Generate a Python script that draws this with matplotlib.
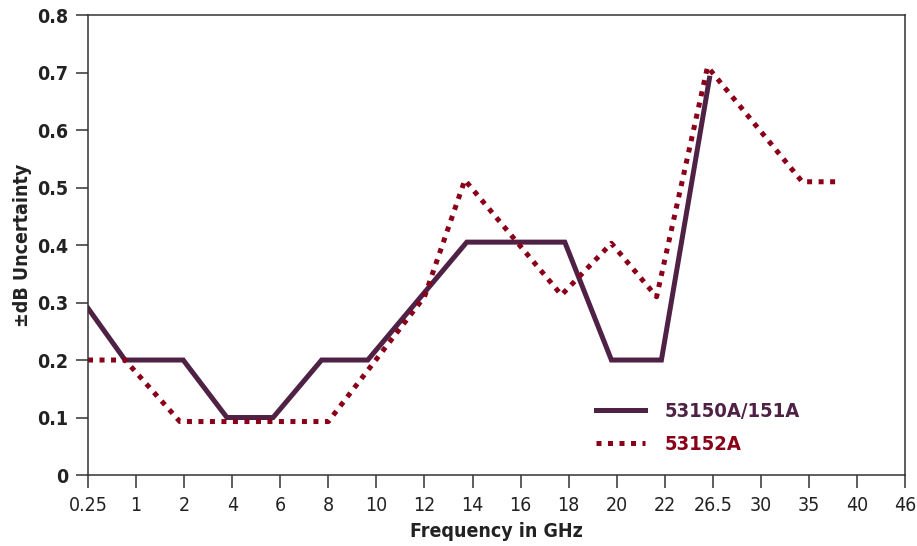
import matplotlib
matplotlib.use("Agg")
import matplotlib.pyplot as plt

# categorical frequency ticks (equally spaced)
freq_labels = ["0.25", "1", "2", "4", "6", "8", "10", "12", "14", "16",
               "18", "20", "22", "26.5", "30", "35", "40", "46"]

# series positions are in tick-index units
solid_x = [0, 0.77, 1.98, 2.89, 3.85, 4.86, 5.82, 7.88, 9.92, 10.89, 11.93, 12.93]
solid_y = [0.29, 0.2, 0.2, 0.1, 0.1, 0.2, 0.2, 0.405, 0.405, 0.2, 0.2, 0.69]

dotted_x = [0, 0.77, 1.91, 5.0, 7.0, 7.84, 9.85, 10.89, 11.83, 12.89, 14.86, 15.68]
dotted_y = [0.2, 0.2, 0.093, 0.093, 0.31, 0.513, 0.313, 0.403, 0.31, 0.71, 0.51, 0.51]

y_ticks = [0, 0.1, 0.2, 0.3, 0.4, 0.5, 0.6, 0.7, 0.8]

SOLID_COLOR = "#4e2145"
DOTTED_COLOR = "#8a0018"
SPINE_COLOR = "#333333"

plt.rcParams["font.family"] = ["DejaVu Sans"]
plt.rcParams["font.stretch"] = "condensed"

fig = plt.figure(figsize=(9.17, 5.46), dpi=100)
ax = fig.add_axes([0.096, 0.130, 0.891, 0.8425])

ax.plot(solid_x, solid_y, color=SOLID_COLOR, lw=3.6, solid_joinstyle="miter",
        label="53150A/151A")
ax.plot(dotted_x, dotted_y, color=DOTTED_COLOR, lw=3.6, dashes=(1, 1.3),
        dash_capstyle="butt", label="53152A")

ax.set_xlim(0, len(freq_labels) - 1)
ax.set_ylim(0, 0.8)
ax.set_xticks(range(len(freq_labels)))
ax.set_xticklabels(freq_labels)
ax.set_yticks(y_ticks)
ax.set_yticklabels(["0" if v == 0 else f"{v:.1f}" for v in y_ticks], fontweight="bold")

for side in ("left", "right", "top", "bottom"):
    ax.spines[side].set_color(SPINE_COLOR)
    ax.spines[side].set_linewidth(1.1)

ax.tick_params(axis="both", direction="out", length=9, width=1.1,
               color=SPINE_COLOR, labelsize=14, labelcolor="#222222")
ax.tick_params(axis="x", pad=6)
ax.tick_params(axis="y", pad=5)

ax.set_xlabel("Frequency in GHz", fontsize=14, fontweight="bold", color="#222222", labelpad=5)
ax.set_ylabel("\u00b1dB Uncertainty", fontsize=14, fontweight="bold", color="#222222", labelpad=4)

leg = ax.legend(loc="upper left", bbox_to_anchor=(0.622, 0.158), frameon=False,
                fontsize=14.5, handlelength=2.4, handletextpad=1.0,
                labelspacing=0.7, borderpad=0, borderaxespad=0)
for text, color in zip(leg.get_texts(), [SOLID_COLOR, DOTTED_COLOR]):
    text.set_color(color)
    text.set_fontweight("bold")

fig.savefig("out.png", dpi=100)
